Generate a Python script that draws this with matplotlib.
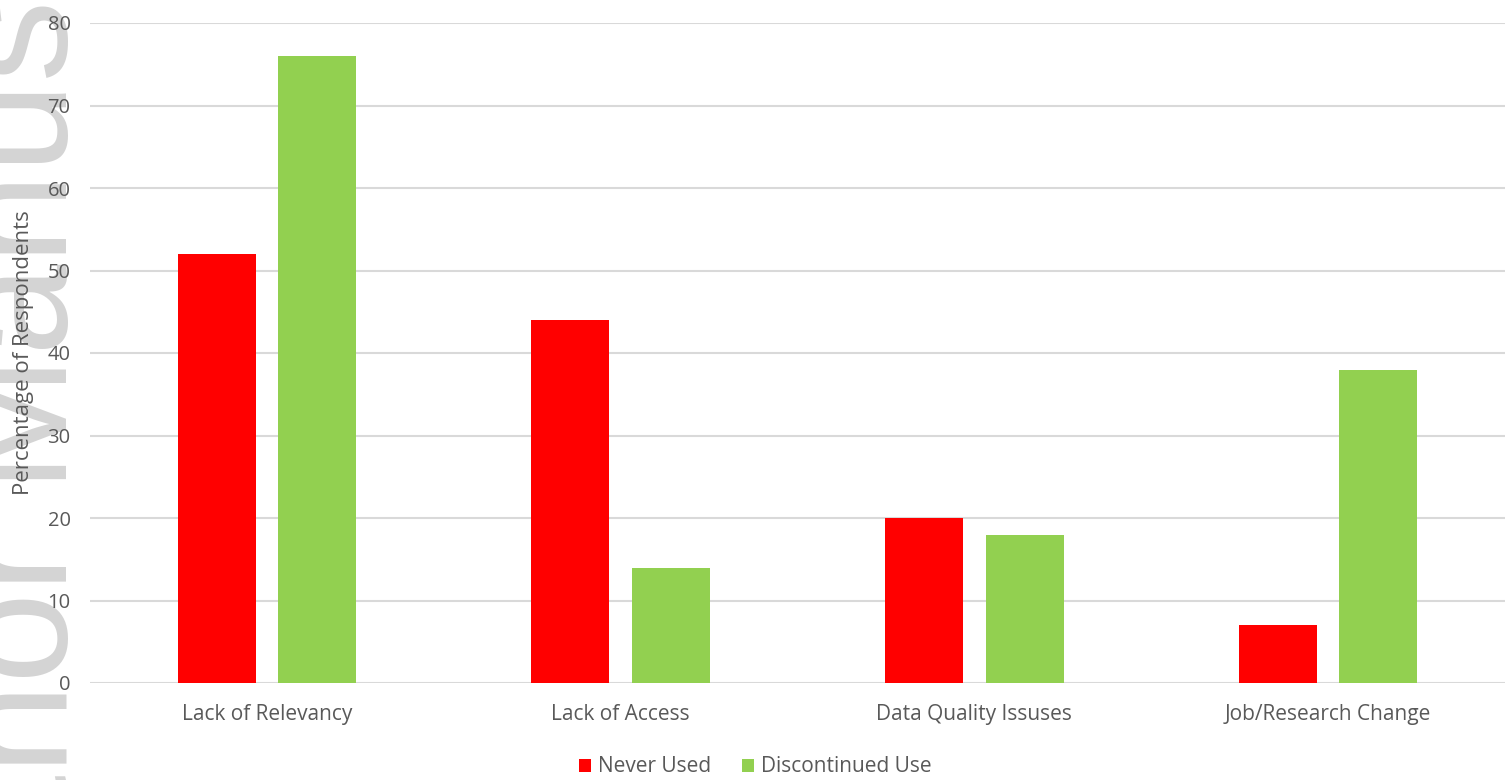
import matplotlib
matplotlib.use("Agg")
import matplotlib.pyplot as plt
import numpy as np

categories = ["Lack of Relevancy", "Lack of Access", "Data Quality Issuses", "Job/Research Change"]
never_used = [52, 44, 20, 7]
discontinued_use = [76, 14, 18, 38]
yticks = [0, 10, 20, 30, 40, 50, 60, 70, 80]

plt.rcParams["font.family"] = ["Open Sans", "DejaVu Sans"]

fig = plt.figure(figsize=(15.12, 7.8), dpi=100)
ax = fig.add_axes([90 / 1512, 1 - 683 / 780, (1505 - 90) / 1512, (683 - 23) / 780])

# Watermark along the left edge, behind everything
fig.text(-0.0335, 0.545, "Author Manuscript", rotation=90, ha="left", va="center",
         fontsize=118, color="#d4d4d4", family="Liberation Sans", zorder=-5)

x = np.arange(len(categories))
w = 0.22
off = 0.142
ax.bar(x - off, never_used, w, color="#ff0000", label="Never Used", zorder=3)
ax.bar(x + off, discontinued_use, w, color="#92d050", label="Discontinued Use", zorder=3)

ax.set_xlim(-0.5, 3.5)
ax.set_ylim(0, 80)
ax.set_yticks(yticks)
ax.set_xticks(x)
ax.set_xticklabels(categories)
ax.patch.set_alpha(0)
ax.yaxis.grid(True, color="#d9d9d9", linewidth=1.5, zorder=0)
ax.set_axisbelow(True)
for s in ax.spines.values():
    s.set_visible(False)
ax.tick_params(axis="both", length=0, labelsize=14.5, colors="#595959")
ax.tick_params(axis="y", pad=14)
ax.tick_params(axis="x", pad=15)
ax.set_xticklabels(categories, fontsize=15)
ax.set_ylabel("Percentage of Respondents", fontsize=16, color="#595959")
ax.yaxis.set_label_coords(-0.0396, 0.5)

leg = fig.legend(loc="center", bbox_to_anchor=(755 / 1512, 1 - 767 / 780), ncol=2,
                 frameon=False, fontsize=15, handlelength=0.6, handleheight=0.6,
                 handletextpad=0.3, columnspacing=1.5, labelcolor="#595959")

fig.savefig("out.png", dpi=100)
